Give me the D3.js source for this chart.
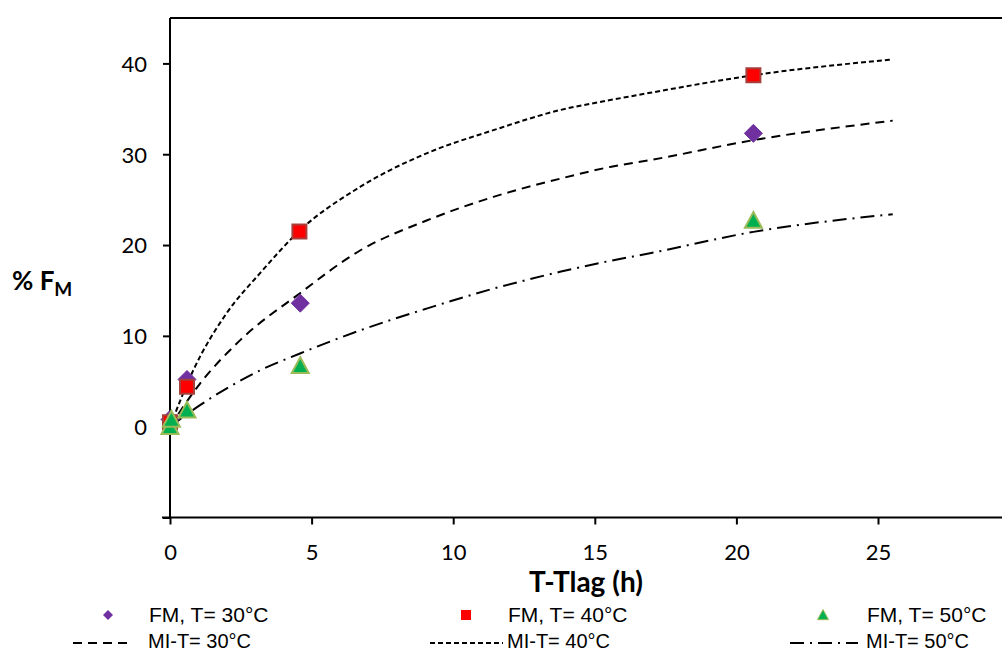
<!DOCTYPE html>
<html><head><meta charset="utf-8">
<script src="https://cdn.jsdelivr.net/npm/d3@7"></script>
<style>body{margin:0;background:#fff}svg{display:block}</style>
</head><body>
<script>
// ---- data ----
const xTicks = [0, 5, 10, 15, 20, 25];
const yTicks = [-10, 0, 10, 20, 30, 40];
const yTickLabels = ["", "0", "10", "20", "30", "40"];

const fm30 = [[0, 0.8], [0.6, 5.2], [4.6, 13.6], [20.6, 32.3]];
const fm40 = [[0, 0.5], [0.6, 4.4], [4.57, 21.5], [20.6, 38.7]];
const fm50 = [[0, 0.0], [0.05, 0.8], [0.6, 1.8], [4.6, 6.7], [20.6, 22.7]];

const mi30 = [[0,0],[1.06,4.75],[2.47,9.5],[4.59,14.7],[6.71,19.4],[9.06,22.7],[11.42,25.3],[13.77,27.3],[15.54,28.6],[16.95,29.35],[20.6,31.55],[25.52,33.7]];
const mi40 = [[0,0],[0.82,6.2],[2.0,12.5],[3.18,16.9],[4.57,21.56],[6.71,26.4],[9.06,30.1],[11.42,32.65],[13.77,34.86],[15.54,35.96],[16.95,36.76],[20.6,38.7],[25.52,40.44]];
const mi50 = [[0,0],[1.06,2.37],[3.18,6.2],[4.59,8.06],[6.71,10.6],[9.06,13.0],[11.42,15.2],[13.77,17.05],[15.54,18.26],[16.95,19.1],[20.6,21.45],[25.52,23.4]];

const legendLabels = ["FM, T= 30°C", "FM, T= 40°C", "FM, T= 50°C", "MI-T= 30°C", "MI-T= 40°C", "MI-T= 50°C"];

// ---- layout ----
const W = 1002, H = 653;
const svg = d3.select("body").append("svg").attr("width", W).attr("height", H);
const x = d3.scaleLinear().domain([0, 30]).range([170, 170 + 30 * 28.32]);
const y = d3.scaleLinear().domain([-10, 45]).range([517.5, 18]);

const tickFont = "Lato, 'Open Sans', sans-serif";

// frame (top border)
svg.append("line").attr("x1", x(0)).attr("x2", x(30)).attr("y1", y(45)).attr("y2", y(45))
  .attr("stroke", "#000").attr("stroke-width", 2);

// y axis
const yAxis = svg.append("g").attr("transform", `translate(${x(0)},0)`)
  .call(d3.axisLeft(y).tickValues(yTicks).tickSize(7).tickFormat((d, i) => yTickLabels[i]));
yAxis.select(".domain").attr("d", `M0,${y(-10)}V${y(45)}`).attr("stroke-width", 2);
yAxis.selectAll(".tick line").attr("stroke-width", 2);
yAxis.selectAll(".tick text").attr("font-family", tickFont).attr("font-size", 22).attr("fill", "#000").attr("x", -23).attr("dy", "0.36em");

// x axis
const xAxis = svg.append("g").attr("transform", `translate(0,${y(-10)})`)
  .call(d3.axisBottom(x).tickValues(xTicks).tickSize(7).tickFormat(d3.format("d")));
xAxis.select(".domain").attr("d", `M${x(0) - 8},0H${x(30)}`).attr("stroke-width", 2);
xAxis.selectAll(".tick line").attr("stroke-width", 2);
xAxis.selectAll(".tick text").attr("font-family", tickFont).attr("font-size", 22).attr("fill", "#000").attr("y", 27).attr("dy", "0.71em");

// axis titles
svg.append("text").attr("x", 586).attr("y", 592).attr("text-anchor", "middle")
  .attr("font-family", tickFont).attr("font-weight", "bold").attr("font-size", 28).text("T-Tlag (h)");
const yl = svg.append("text").attr("x", 12).attr("y", 290)
  .attr("font-family", tickFont).attr("font-weight", "bold").attr("font-size", 26);
yl.append("tspan").text("% F");
yl.append("tspan").attr("font-size", 19).attr("dy", 6).text("M");

// curves
const line = d3.line().x(d => x(d[0])).y(d => y(d[1])).curve(d3.curveMonotoneX);
const curves = [
  {data: mi30, dash: "9,6"},
  {data: mi40, dash: "5,3"},
  {data: mi50, dash: "14,6,2,6"}
];
curves.forEach(c => svg.append("path").attr("d", line(c.data)).attr("fill", "none")
  .attr("stroke", "#000").attr("stroke-width", 2).attr("stroke-dasharray", c.dash));

// marker shapes
const diamondType = {draw(ctx, s) { const r = Math.sqrt(s) / 2; ctx.moveTo(0, -r); ctx.lineTo(r, 0); ctx.lineTo(0, r); ctx.lineTo(-r, 0); ctx.closePath(); }};
const triType = {draw(ctx, s) { const r = Math.sqrt(s) / 2; ctx.moveTo(0, -r); ctx.lineTo(r, r * 0.85); ctx.lineTo(-r, r * 0.85); ctx.closePath(); }};
const squareType = {draw(ctx, s) { const r = Math.sqrt(s) / 2; ctx.rect(-r, -r, 2 * r, 2 * r); }};

const series = [
  {data: fm30, type: diamondType, size: 18 * 18, fill: "#7030a0", stroke: "#7030a0", sw: 1, lsize: 10 * 10},
  {data: fm40, type: squareType, size: 14 * 14, fill: "#ff0000", stroke: "#a5403c", sw: 2, lsize: 10 * 10},
  {data: fm50, type: triType, size: 17 * 17, fill: "#00b050", stroke: "#9bbb59", sw: 2, lsize: 11 * 11}
];
series.forEach(s => {
  svg.append("g").selectAll("path").data(s.data).join("path")
    .attr("transform", d => `translate(${x(d[0])},${y(d[1])})`)
    .attr("d", d3.symbol().type(s.type).size(s.size)())
    .attr("fill", s.fill).attr("stroke", s.stroke).attr("stroke-width", s.sw);
});

// legend
const legX = [{m: 108, t: 149, l1: 73, l2: 132}, {m: 466, t: 508, l1: 430, l2: 503}, {m: 823, t: 867, l1: 790, l2: 858}];
const legFont = "'Liberation Sans', Arial, sans-serif";
series.forEach((s, i) => {
  svg.append("path").attr("transform", `translate(${legX[i].m},615)`)
    .attr("d", d3.symbol().type(s.type).size(s.lsize)())
    .attr("fill", s.fill).attr("stroke", i === 2 ? s.stroke : "none").attr("stroke-width", 1);
  svg.append("text").attr("x", legX[i].t).attr("y", 622).attr("font-family", legFont).attr("font-size", 21).text(legendLabels[i]);
  svg.append("line").attr("x1", legX[i].l1).attr("x2", legX[i].l2).attr("y1", 643).attr("y2", 643)
    .attr("stroke", "#000").attr("stroke-width", 2).attr("stroke-dasharray", curves[i].dash);
  svg.append("text").attr("x", legX[i].t - 1).attr("y", 648).attr("font-family", legFont).attr("font-size", 20).text(legendLabels[i + 3]);
});
</script>
</body></html>
